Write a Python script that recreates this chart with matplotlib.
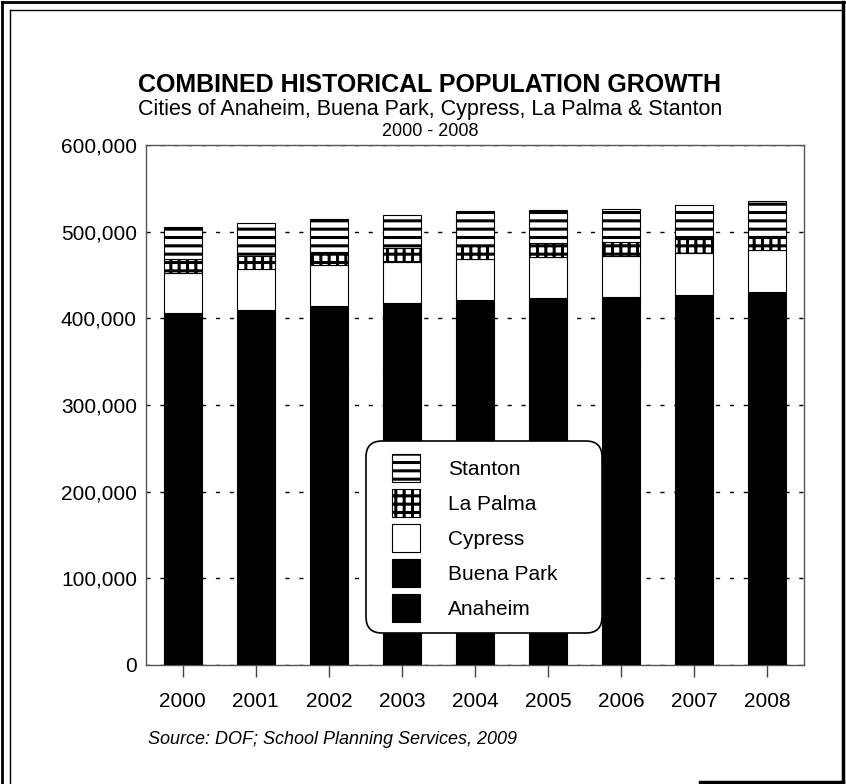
import numpy as np
import matplotlib
matplotlib.use("Agg")
import matplotlib.pyplot as plt
from matplotlib.patches import FancyBboxPatch
from matplotlib.lines import Line2D
from matplotlib.transforms import IdentityTransform
from matplotlib.ticker import FuncFormatter

plt.rcParams["font.family"] = ["Liberation Sans", "DejaVu Sans"]
plt.rcParams["hatch.linewidth"] = 2.2

# population by city, 2000 - 2008
years = ["2000", "2001", "2002", "2003", "2004", "2005", "2006", "2007", "2008"]
anaheim = [328014, 331500, 335200, 338300, 341200, 342700, 343800, 346600, 348500]
buena_park = [78282, 78600, 78900, 79400, 79900, 80200, 80400, 80800, 81600]
cypress = [46229, 46800, 47200, 47600, 47800, 48000, 48200, 48500, 48900]
la_palma = [15408, 15600, 15700, 15800, 15900, 16000, 16000, 16100, 16200]
stanton = [37400, 37800, 38000, 38200, 38800, 38500, 38300, 38600, 40000]

series = [
    ("Anaheim", anaheim, "black", None),
    ("Buena Park", buena_park, "black", None),
    ("Cypress", cypress, "white", None),
    ("La Palma", la_palma, "white", "++"),
    ("Stanton", stanton, "white", "--"),
]

W, H = 846, 784
fig = plt.figure(figsize=(W / 100, H / 100), dpi=100)
ax = fig.add_axes([146 / W, 1 - 665 / H, 658 / W, 520 / H])

x = np.arange(len(years))
bottom = np.zeros(len(years))
for name, vals, color, hatch in series:
    ax.bar(x, vals, 0.52, bottom=bottom, color=color, edgecolor="black",
           linewidth=0.8, hatch=hatch, label=name, zorder=3)
    bottom += np.array(vals)

ax.set_xlim(-0.5, len(years) - 0.5)
ax.set_ylim(0, 600000)
ax.set_yticks(np.arange(0, 600001, 100000))
ax.yaxis.set_major_formatter(FuncFormatter(lambda v, p: f"{int(v):,}"))
ax.set_xticks(x)
ax.set_xticklabels(years)
ax.tick_params(axis="y", length=0, pad=6.5, labelsize=15)
ax.tick_params(axis="x", length=8.5, width=1, color="#444444", pad=11, labelsize=15)
ax.yaxis.grid(True, color="black", linewidth=1.0, linestyle=(0, (3, 7)), zorder=0)
for s in ax.spines.values():
    s.set_color("#555555")
    s.set_linewidth(1.0)

# legend box (rounded) drawn in pixels, entries placed inside it
frame = FancyBboxPatch((366, H - 633), 236, 192, boxstyle="round,pad=0,rounding_size=16",
                       transform=IdentityTransform(), facecolor="white",
                       edgecolor="black", linewidth=1.2, zorder=4)
fig.add_artist(frame)

handles, labels = ax.get_legend_handles_labels()
leg = fig.legend(handles[::-1], labels[::-1], loc="upper left",
                 bbox_to_anchor=(392 / W, 1 - 454 / H),
                 fontsize=15, frameon=False, handlelength=1.35,
                 handleheight=1.7, labelspacing=0.33, handletextpad=1.35,
                 borderpad=0, borderaxespad=0)
leg.set_zorder(6)

fig.text(430 / W, 1 - 85 / H, "COMBINED HISTORICAL POPULATION GROWTH",
         ha="center", va="center", fontsize=18, fontweight="bold")
fig.text(430 / W, 1 - 109 / H,
         "Cities of Anaheim, Buena Park, Cypress, La Palma & Stanton",
         ha="center", va="center", fontsize=15.5)
fig.text(430 / W, 1 - 131 / H, "2000 - 2008", ha="center", va="center",
         fontsize=13)
fig.text(148 / W, 1 - 739 / H, "Source: DOF; School Planning Services, 2009",
         ha="left", va="center", fontsize=13, style="italic")

# page border
def fline(xs, ys, lw):
    fig.add_artist(Line2D([v / W for v in xs], [1 - v / H for v in ys],
                          color="black", linewidth=lw, transform=fig.transFigure))
fline([2, 2], [2, 784], 2.0)
fline([10, 10], [10, 784], 1.0)
fline([2, 844], [2, 2], 2.0)
fline([10, 843], [10, 10], 1.0)
fline([843, 843], [2, 783], 2.5)
fline([700, 843], [782, 782], 2.5)

fig.savefig("out.png", dpi=100)
